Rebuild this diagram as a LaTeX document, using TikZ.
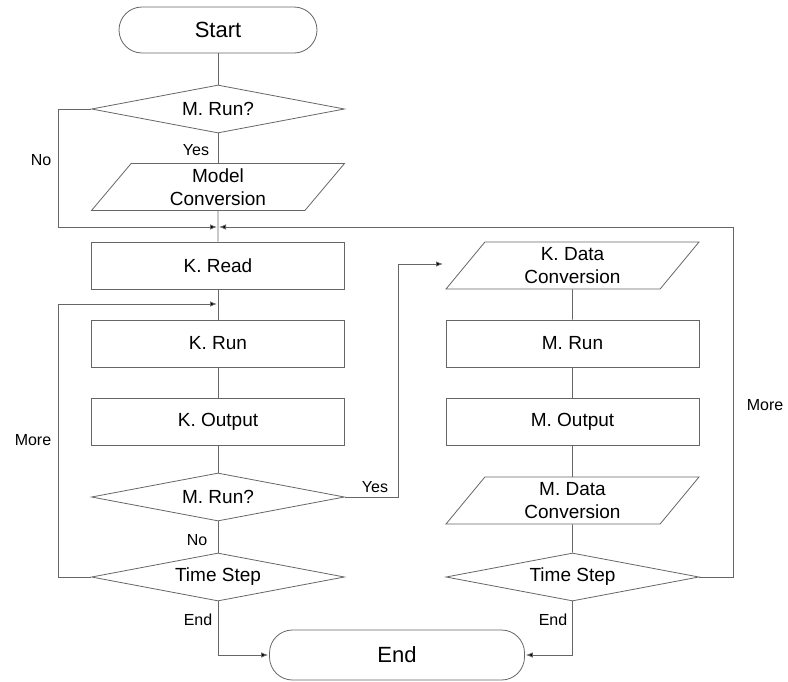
\documentclass[tikz,border=0pt]{standalone}
\usepackage{fontspec}
\setmainfont{Liberation Sans}
\usetikzlibrary{shapes.geometric,arrows.meta}
\definecolor{linegray}{HTML}{666666}
\tikzset{
  base/.style={draw=linegray, line width=0.8pt, inner sep=0pt, align=center, font=\fontsize{19}{23}\selectfont},
  process/.style={base, rectangle, minimum width=253pt, minimum height=47pt},
  decision/.style={base, diamond, aspect=5.27, minimum width=253pt, minimum height=48pt},
  iobox/.style={base, trapezium, trapezium left angle=43, trapezium right angle=137, trapezium stretches body, minimum width=253pt, minimum height=47pt},
  terminal/.style={base, rounded corners=23pt, minimum height=46pt, font=\fontsize{22}{24}\selectfont},
  flow/.style={draw=linegray, line width=0.8pt},
  flowarrow/.style={flow, shorten >=1pt, -{Latex[length=7pt,width=5.5pt,fill=black]}},
  lbl/.style={font=\fontsize{16}{18}\selectfont, inner sep=0pt}
}
\begin{document}
\begin{tikzpicture}[x=1pt,y=-1pt]
    \useasboundingbox (0,0) rectangle (788,681);

    % Start
    \node[terminal, minimum width=198pt] (start) at (218,30) {Start};
    \node[decision] (run1) at (218,109) {M. Run?};
    \node[iobox] (mconv) at (218,187) {Model\\Conversion};

    % K. side
    \node[process] (kread) at (218,265.5) {K. Read};
    \node[process] (krun) at (218,343.5) {K. Run};
    \node[process] (kout) at (218,421.5) {K. Output};
    \node[decision] (run2) at (218,497) {M. Run?};
    \node[decision] (tstep1) at (218,577) {Time Step};

    % M. side
    \node[iobox] (kdata) at (572.5,265.5) {K. Data\\Conversion};
    \node[process] (mrun) at (572.5,343.5) {M. Run};
    \node[process] (mout) at (572.5,421.5) {M. Output};
    \node[iobox] (mdata) at (572.5,500.5) {M. Data\\Conversion};
    \node[decision] (tstep2) at (572.5,577) {Time Step};

    % End
    \node[terminal, minimum width=255pt, minimum height=50pt] (stop) at (397,655) {End};

    % Junctions and turning lines
    \coordinate (j1) at (218,227);
    \coordinate (j2) at (218,304);
    \coordinate (kin) at (444,264);
    \coordinate (leftx) at (58,0);
    \coordinate (midx) at (398,0);
    \coordinate (rightx) at (733,0);

    % Connections
    \draw[flow] (start) -- (run1);
    \draw[flow] (run1) -- (mconv);
    \draw[flow] (mconv) -- (kread);
    \draw[flow] (kread) -- (krun);
    \draw[flow] (krun) -- (kout);
    \draw[flow] (kout) -- (run2);
    \draw[flow] (run2) -- (tstep1);
    \draw[flow] (kdata) -- (mrun);
    \draw[flow] (mrun) -- (mout);
    \draw[flow] (mout) -- (mdata);
    \draw[flow] (mdata) -- (tstep2);

    \draw[flowarrow] (run1.west) -| (j1 -| leftx) -- (j1);
    \draw[flowarrow] (tstep2.east) -| (j1 -| rightx) -- (j1);
    \draw[flowarrow] (tstep1.west) -| (j2 -| leftx) -- (j2);
    \draw[flowarrow] (run2.east) -| (kin -| midx) -- (kin);
    \draw[flowarrow] (tstep1.south) |- (stop.west);
    \draw[flowarrow] (tstep2.south) |- (stop.east);

    % Labels
    \node[lbl] (no1) at (41,160) {No};
    \node[lbl] (yes1) at (196,150) {Yes};
    \node[lbl] (more1) at (33,440) {More};
    \node[lbl] (yes2) at (375,487) {Yes};
    \node[lbl] (no2) at (197,540) {No};
    \node[lbl] (end1) at (198,620) {End};
    \node[lbl] (end2) at (553,620) {End};
    \node[lbl] (more2) at (765,405) {More};
\end{tikzpicture}
\end{document}
